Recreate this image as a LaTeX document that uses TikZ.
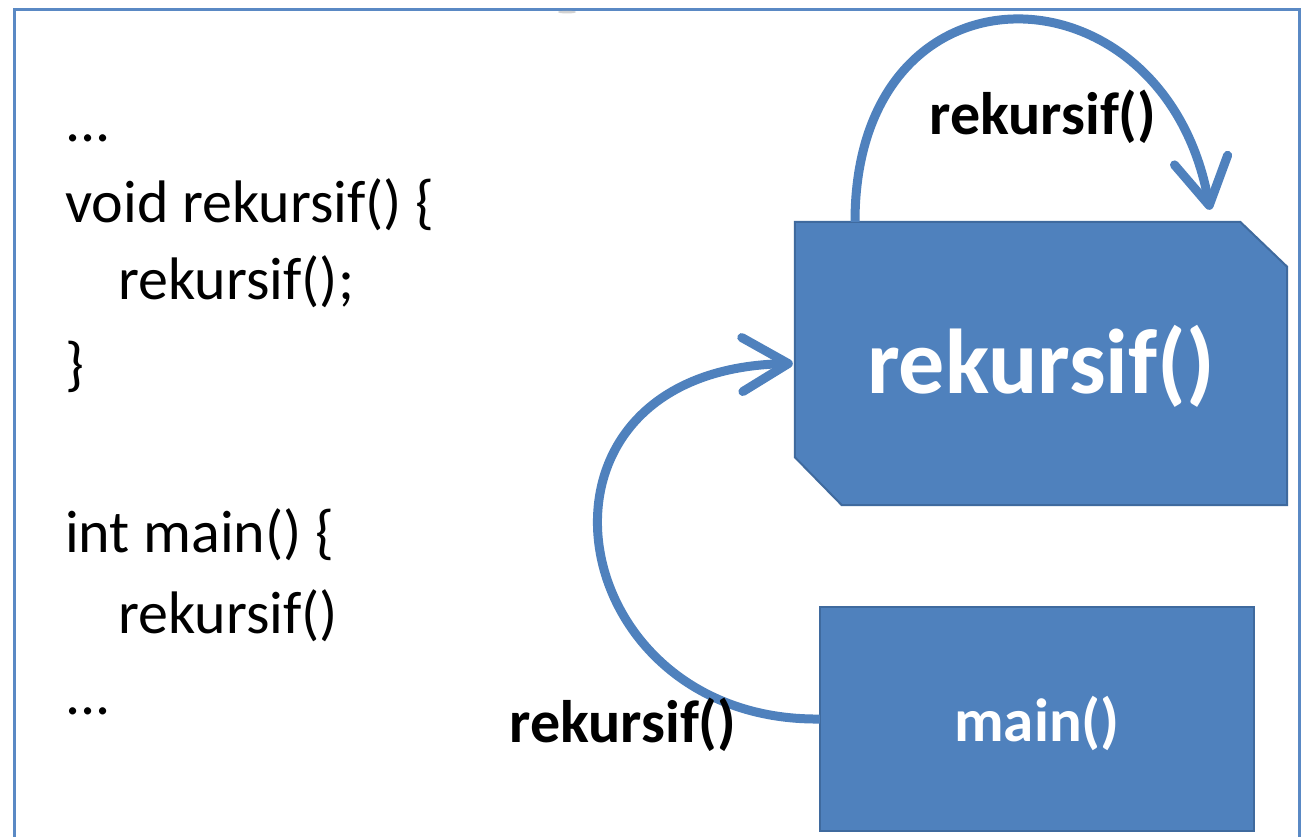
\documentclass[tikz,border=0pt]{standalone}
\usepackage{fontspec}
\setmainfont{Carlito}
\usetikzlibrary{arrows.meta,backgrounds}

\definecolor{officeblue}{HTML}{4F81BD}
\definecolor{officeedge}{HTML}{3F6A9E}
\definecolor{framecol}{HTML}{5A89C4}

\begin{document}
\begin{tikzpicture}[x=1pt,y=-1pt,
  codeline/.style={anchor=base west,inner sep=0pt,font=\fontsize{60}{72}\selectfont},
  calllabel/.style={anchor=base,inner sep=0pt,font=\fontsize{60}{72}\selectfont\bfseries},
  funcbox/.style={text=white,inner sep=0pt,font=\bfseries},
  boxfill/.style={fill=officeblue,draw=officeedge,line width=2pt,line join=miter},
  callarrow/.style={draw=officeblue,line width=9pt,
    -{Straight Barb[length=46pt,width=54pt,round]}}]

\useasboundingbox (0,0) rectangle (1305,837);

% outer frame (open at the bottom)
\draw[framecol,line width=3pt] (14.5,837) -- (14.5,9.5) -- (1299.5,9.5) -- (1299.5,837);
\fill[gray!70,opacity=0.5] (567,12) ellipse (9 and 1.5);

% source code
\node[codeline] (l1) at (65,142) {...};
\node[codeline] (l2) at (65,222) {void rekursif() \{};
\node[codeline] (l3) at (118,299) {rekursif();};
\node[codeline] (l4) at (65,384) {\}};
\node[codeline] (l5) at (65,552) {int main() \{};
\node[codeline] (l6) at (118,633) {rekursif()};
\node[codeline] (l7) at (65,714) {...};

% function boxes
\node[funcbox,minimum width=492pt,minimum height=283pt,
  text height=59pt,text depth=0pt,
  font=\fontsize{92}{100}\selectfont\bfseries] (rk) at (1041,363.5) {rekursif()};
\node[funcbox,minimum width=434pt,minimum height=224pt,
  text height=44pt,text depth=0pt,
  font=\fontsize{61}{70}\selectfont\bfseries] (mn) at (1037,719) {main()};

\begin{scope}[on background layer]
  \fill[white] (0,0) rectangle (1305,837);
  % box with two cut corners
  \path[boxfill] (rk.north west) -- ([xshift=-47pt]rk.north east)
    -- ([yshift=-45pt]rk.north east) -- (rk.south east)
    -- ([xshift=47pt]rk.south west) -- ([yshift=48pt]rk.south west) -- cycle;
  \path[boxfill] (mn.north west) rectangle (mn.south east);
\end{scope}

% calls
\draw[callarrow] ([xshift=-186pt]rk.north) .. controls +(0,-272) and +(-45,-250) .. ([xshift=169pt,yshift=12pt]rk.north);
\draw[callarrow] (mn.west) .. controls +(-260,3) and +(-290,6) .. ([xshift=-2pt]rk.west);

\node[calllabel] (t1) at (1043,135) {rekursif()};
\node[calllabel] (t2) at (623,742) {rekursif()};
\end{tikzpicture}
\end{document}
